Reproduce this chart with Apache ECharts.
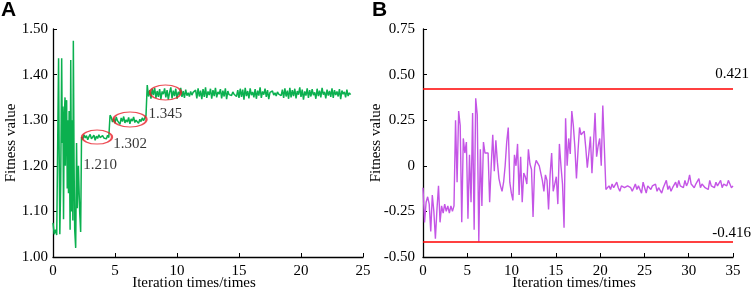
<!DOCTYPE html>
<html>
<head>
<meta charset="utf-8">
<script src="https://cdn.jsdelivr.net/npm/echarts@6/dist/echarts.min.js"></script>
<style>
html, body { margin: 0; padding: 0; background: #fff; }
#chart { width: 754px; height: 289px; }
</style>
</head>
<body>
<div id="chart"></div>
<script>
// ---------------- data: panel A (fitness curve) ----------------
// early search, irregular sampling
var chaosX = [0, 0.1, 0.2, 0.3, 0.4, 0.45, 0.5, 0.55, 0.62, 0.7, 0.75, 0.8, 0.85, 0.9, 0.97, 1.0, 1.05, 1.1, 1.15, 1.2,
              1.25, 1.3, 1.38, 1.43, 1.5, 1.55, 1.6, 1.64, 1.7, 1.75, 1.83, 1.9, 1.96, 2.05, 2.15, 2.23];
var chaosY = [1.075, 1.05, 1.06, 1.048, 1.05, 1.436, 1.22, 1.05, 1.16, 1.436, 1.25, 1.33, 1.083, 1.30, 1.35, 1.20, 1.33, 1.344, 1.15, 1.30,
              1.14, 1.32, 1.06, 1.432, 1.10, 1.30, 1.08, 1.474, 1.20, 1.06, 1.02, 1.25, 1.107, 1.20, 1.10, 1.055];
// three plateaus, sampled every 0.1 iteration
var plateauStep = 0.1;
var stage1Start = 2.3;
var stage1 = [1.263, 1.258, 1.268, 1.261, 1.266, 1.257, 1.264, 1.269, 1.259, 1.262, 1.267, 1.256, 1.265, 1.260, 1.268, 1.262,
              1.258, 1.266, 1.261, 1.264, 1.259, 1.267, 1.262];
var stage2Start = 4.6;
var stage2 = [1.311, 1.306, 1.296, 1.304, 1.293, 1.307, 1.299, 1.302, 1.291, 1.305, 1.297, 1.308, 1.294, 1.301, 1.296,
              1.306, 1.292, 1.303, 1.298, 1.307, 1.295, 1.300, 1.304, 1.293, 1.302, 1.297, 1.305, 1.299, 1.303, 1.310];
var stage3Start = 7.6;
var stage3 = [
  1.377, 1.352, 1.366, 1.347, 1.369, 1.355, 1.371, 1.349, 1.364, 1.351, 1.368, 1.346, 1.363, 1.357, 1.370,
  1.350, 1.366, 1.345, 1.361, 1.372, 1.348, 1.365, 1.353, 1.369, 1.347, 1.362, 1.356, 1.371, 1.351, 1.364,
  1.349, 1.367, 1.354, 1.360, 1.352, 1.363, 1.355, 1.361, 1.357, 1.366, 1.348, 1.370, 1.352, 1.365, 1.346,
  1.368, 1.351, 1.372, 1.349, 1.363, 1.355, 1.369, 1.347, 1.366, 1.353, 1.371, 1.350, 1.362, 1.357, 1.368,
  1.348, 1.365, 1.352, 1.370, 1.346, 1.364, 1.356, 1.360, 1.354, 1.362, 1.357, 1.359, 1.352, 1.366, 1.349,
  1.369, 1.351, 1.367, 1.345, 1.371, 1.353, 1.364, 1.348, 1.370, 1.355, 1.362, 1.350, 1.368, 1.347, 1.365,
  1.354, 1.372, 1.349, 1.363, 1.356, 1.369, 1.351, 1.366, 1.346, 1.361, 1.358, 1.364, 1.355, 1.360, 1.353,
  1.362, 1.357, 1.361, 1.354, 1.367, 1.349, 1.370, 1.352, 1.365, 1.347, 1.371, 1.350, 1.366, 1.353, 1.369,
  1.348, 1.364, 1.356, 1.372, 1.351, 1.367, 1.345, 1.363, 1.354, 1.370, 1.349, 1.366, 1.352, 1.368, 1.355,
  1.361, 1.347, 1.369, 1.353, 1.365, 1.350, 1.371, 1.356, 1.362, 1.348, 1.367, 1.354, 1.364, 1.351, 1.370,
  1.349, 1.366, 1.355, 1.363, 1.352, 1.368, 1.346, 1.365, 1.357, 1.362, 1.350, 1.367, 1.353, 1.360, 1.356
];
// circled plateaus and their annotations
var circleX = [3.55, 6.21, 9.07];
var circleY = [1.263, 1.3015, 1.3607];
var circleText = ['1.210', '1.302', '1.345'];

// ---------------- data: panel B ----------------
var stepB = 0.175;
var fitB = [
  -0.12, -0.31, -0.20, -0.17, -0.21, -0.36, -0.16, -0.25, -0.40, -0.24, -0.11, -0.31, -0.22, -0.26, -0.21, -0.25, -0.22, -0.26, -0.22, -0.25, -0.22,
  0.25, -0.09, 0.30, 0.22, -0.31, 0.15, 0.07, 0.13, -0.29, 0.06, -0.20, 0.29, -0.35, 0.37, 0.28, -0.415, 0.09, -0.22, 0.13, 0.07, 0.06, 0.07,
  -0.20, 0.0, 0.17, -0.03, 0.14, 0.02, -0.07, -0.11, -0.14, -0.09, 0.0, 0.13, 0.21, -0.09, -0.15, -0.19, 0.06, 0.0, 0.12, -0.16,
  0.05, -0.20, -0.04, -0.06, -0.10, 0.09, 0.01, -0.02, -0.28, -0.01, 0.03, 0.02, 0.0, -0.01, -0.08, -0.14, -0.05, -0.08, -0.24, -0.05,
  0.07, -0.14, -0.10, -0.06, -0.21, 0.12, 0.0, -0.10, -0.34, 0.26, 0.00, 0.15, 0.065, 0.30, 0.22, 0.10, -0.07, 0.08, 0.21, 0.17,
  0.18, 0.19, 0.10, -0.01, 0.07, 0.16, -0.04, 0.12, 0.29, 0.05, 0.11, 0.15, 0.00, 0.33, 0.10, -0.13,
  -0.12, -0.11, -0.13, -0.10, -0.12, -0.11, -0.09, -0.12, -0.14, -0.11,
  -0.10, -0.12, -0.13, -0.11, -0.10, -0.12, -0.14, -0.12, -0.10, -0.13,
  -0.11, -0.12, -0.15, -0.09, -0.12, -0.15, -0.11, -0.10, -0.13, -0.11,
  -0.12, -0.10, -0.14, -0.12, -0.11, -0.15, -0.12, -0.10, -0.08, -0.13,
  -0.11, -0.14, -0.12, -0.13, -0.09, -0.12, -0.08, -0.11, -0.10, -0.12,
  -0.08, -0.11, -0.09, -0.05, -0.10, -0.11, -0.12, -0.10, -0.11, -0.07,
  -0.12, -0.10, -0.09, -0.12, -0.11, -0.13, -0.08, -0.11, -0.10, -0.12,
  -0.09, -0.11, -0.10, -0.08, -0.12, -0.10, -0.09, -0.11, -0.08, -0.10,
  -0.12, -0.11
];
var limitVals = [0.421, -0.416];
var limitText = ['0.421', '-0.416'];

// ---------------- build series data ----------------
var greenData = [];
chaosX.forEach(function (x, i) { greenData.push([x, chaosY[i]]); });
[[stage1Start, stage1], [stage2Start, stage2], [stage3Start, stage3]].forEach(function (s) {
  s[1].forEach(function (v, i) { greenData.push([+(s[0] + i * plateauStep).toFixed(2), v]); });
});
var purpleData = fitB.map(function (v, i) { return [+(i * stepB).toFixed(3), v]; });

var serif = 'Liberation Serif';
var circleSizes = [[30, 14], [33, 15], [31, 15]];
var circleLabel = [{ distance: 13, offset: [3, 0] }, { distance: 9, offset: [0, 0] }, { distance: 6, offset: [0, 0] }];
var circleData = circleX.map(function (x, i) {
  return {
    value: [x, circleY[i]],
    symbolSize: circleSizes[i],
    label: {
      show: true, position: 'bottom', distance: circleLabel[i].distance, offset: circleLabel[i].offset,
      formatter: circleText[i], color: '#000', fontFamily: serif, fontSize: 15
    }
  };
});

function xAxisCfg(idx, max) {
  return {
    type: 'value', gridIndex: idx, min: 0, max: max, interval: 5,
    name: 'Iteration times/times', nameLocation: 'middle', nameGap: 19, nameMoveOverlap: false,
    nameTextStyle: { fontFamily: serif, fontSize: 15, color: '#000', padding: idx === 0 ? [0, 28, 0, 0] : [0, 8, 0, 0] },
    axisLine: { show: true, onZero: false, lineStyle: { color: '#000', width: 1.3 } },
    axisTick: { show: true, inside: true, length: 4, lineStyle: { color: '#000' } },
    axisLabel: { fontFamily: serif, fontSize: 15, color: '#000', margin: 7 },
    splitLine: { show: false }
  };
}
function yAxisCfg(idx, min, max, interval, fmt, gap, margin) {
  return {
    type: 'value', gridIndex: idx, min: min, max: max, interval: interval,
    name: 'Fitness value', nameLocation: 'middle', nameGap: gap, nameRotate: 90, nameMoveOverlap: false,
    nameTextStyle: { fontFamily: serif, fontSize: 15, color: '#000' },
    axisLine: { show: true, onZero: false, lineStyle: { color: '#000', width: 1.3 } },
    axisTick: { show: true, inside: true, length: 4, lineStyle: { color: '#000' } },
    axisLabel: { fontFamily: serif, fontSize: 15, color: '#000', margin: margin, formatter: fmt },
    splitLine: { show: false }
  };
}

var chart = echarts.init(document.getElementById('chart'));
chart.setOption({
  animation: false,
  backgroundColor: '#fff',
  title: [
    { text: 'A', left: 1, top: 0, padding: 0, textStyle: { fontFamily: 'Liberation Sans', fontWeight: 'bold', fontSize: 21, color: '#000' } },
    { text: 'B', left: 372, top: 0, padding: 0, textStyle: { fontFamily: 'Liberation Sans', fontWeight: 'bold', fontSize: 21, color: '#000' } }
  ],
  grid: [
    { left: 53, top: 29, width: 310, height: 228, outerBoundsMode: 'none', containLabel: false },
    { left: 423, top: 29, width: 310, height: 228, outerBoundsMode: 'none', containLabel: false }
  ],
  xAxis: [xAxisCfg(0, 25), xAxisCfg(1, 35)],
  yAxis: [
    yAxisCfg(0, 1.0, 1.5, 0.1, function (v) { return v.toFixed(2); }, 34, 5),
    yAxisCfg(1, -0.5, 0.75, 0.25, function (v) { return v === 0 ? '0' : v.toFixed(2); }, 39, 8)
  ],
  series: [
    {
      type: 'line', xAxisIndex: 0, yAxisIndex: 0, data: greenData,
      showSymbol: false, symbol: 'none',
      lineStyle: { color: '#0bb04f', width: 1.5 }
    },
    {
      type: 'scatter', xAxisIndex: 0, yAxisIndex: 0, data: circleData,
      symbol: 'circle',
      itemStyle: { color: 'rgba(0,0,0,0)', borderColor: '#e8202a', borderWidth: 1.6 },
      z: 5
    },
    {
      type: 'line', xAxisIndex: 1, yAxisIndex: 1, data: purpleData,
      showSymbol: false, symbol: 'none',
      lineStyle: { color: '#c455e6', width: 1.4 },
      markLine: {
        symbol: 'none', silent: true,
        lineStyle: { color: '#ff0000', width: 1.6, type: 'solid' },
        label: { show: true, position: 'insideEndTop', fontFamily: serif, fontSize: 15, color: '#000', formatter: '{b}' },
        data: limitVals.map(function (v, i) {
          return [
            { name: limitText[i], coord: [0, v], label: { offset: i === 0 ? [21, -2] : [23, 4] } },
            { coord: [35, v] }
          ];
        })
      }
    }
  ]
});
</script>
</body>
</html>
